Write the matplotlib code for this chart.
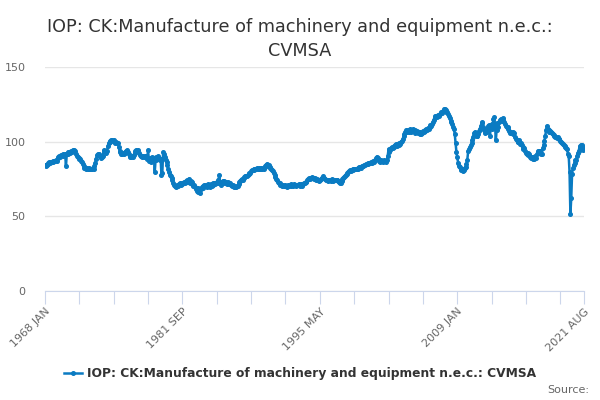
import numpy as np
import matplotlib
matplotlib.use('Agg')
import matplotlib.pyplot as plt

# monthly values, 1968 JAN .. 2021 AUG
y1968 = [84.5, 83.8, 84.2, 85.0, 85.6, 86.2, 86.0, 86.6, 86.4, 86.8, 86.5, 87.0]
y1969 = [86.8, 87.5, 87.2, 89.0, 89.6, 90.2, 89.8, 90.8, 91.2, 90.5, 91.5, 91.0]
y1970 = [92.0, 83.5, 91.5, 92.8, 92.0, 93.2, 92.6, 93.5, 93.0, 94.0, 94.6, 94.2]
y1971 = [93.5, 92.0, 90.5, 89.8, 89.0, 88.2, 88.5, 87.0, 86.2, 85.0, 83.5, 82.6]
y1972 = [82.2, 81.8, 82.5, 81.5, 82.0, 82.3, 81.6, 82.0, 81.8, 82.4, 82.0, 83.5]
y1973 = [86.0, 88.5, 90.8, 91.5, 92.0, 91.0, 90.2, 89.0, 89.8, 90.5, 93.5, 94.2]
y1974 = [93.5, 92.6, 94.0, 97.0, 99.0, 100.2, 99.5, 100.8, 101.2, 100.5, 100.8, 99.8]
y1975 = [99.0, 99.5, 98.8, 99.2, 96.5, 94.0, 93.2, 92.0, 91.5, 92.2, 91.8, 92.5]
y1976 = [93.0, 93.8, 94.2, 93.0, 91.5, 90.6, 90.0, 89.8, 90.4, 89.6, 91.0, 92.5]
y1977 = [94.0, 94.5, 93.8, 94.6, 92.5, 91.0, 90.2, 90.5, 89.8, 90.6, 90.0, 90.2]
y1978 = [89.5, 90.2, 88.6, 94.5, 87.0, 89.0, 88.0, 86.5, 89.5, 87.5, 88.8, 80.0]
y1979 = [88.0, 89.8, 88.5, 90.2, 89.0, 87.5, 88.5, 77.5, 79.0, 93.0, 91.5, 90.0]
y1980 = [88.0, 86.5, 84.5, 82.0, 80.0, 78.0, 77.0, 76.0, 74.5, 72.5, 71.0, 70.0]
y1981 = [69.5, 70.5, 71.2, 70.0, 71.5, 72.0, 71.0, 72.3, 71.8, 72.5, 73.0, 72.4]
y1982 = [73.5, 72.8, 74.0, 73.2, 75.2, 72.5, 73.6, 71.5, 72.8, 70.5, 71.2, 69.8]
y1983 = [68.5, 67.0, 69.2, 66.5, 68.0, 65.8, 68.5, 69.5, 70.2, 69.0, 71.0, 70.3]
y1984 = [71.2, 69.8, 71.5, 70.0, 70.8, 69.5, 71.6, 70.4, 72.0, 71.2, 72.6, 71.8]
y1985 = [72.5, 73.2, 72.0, 74.5, 77.5, 73.0, 70.8, 72.5, 73.8, 72.2, 73.5, 72.0]
y1986 = [72.8, 71.8, 73.0, 72.4, 71.5, 72.6, 71.2, 70.5, 71.0, 69.6, 70.2, 69.4]
y1987 = [69.8, 70.6, 70.0, 71.5, 72.8, 73.5, 74.2, 75.0, 74.6, 75.8, 76.5, 77.0]
y1988 = [77.2, 76.8, 77.8, 78.5, 79.2, 79.0, 80.2, 80.8, 81.0, 81.8, 81.2, 82.0]
y1989 = [81.5, 82.2, 81.8, 82.5, 81.4, 82.0, 82.6, 81.6, 82.2, 81.8, 82.8, 83.5]
y1990 = [84.2, 85.2, 84.0, 84.5, 83.0, 82.5, 82.0, 81.0, 80.2, 79.0, 77.8, 76.5]
y1991 = [75.2, 74.0, 73.2, 72.5, 72.0, 71.2, 71.0, 70.5, 71.2, 70.2, 70.8, 70.0]
y1992 = [70.6, 69.8, 71.0, 70.2, 70.8, 71.4, 70.4, 71.0, 70.6, 71.5, 70.8, 71.2]
y1993 = [70.5, 71.2, 70.8, 71.6, 70.6, 71.0, 71.8, 70.6, 71.4, 72.0, 72.6, 73.0]
y1994 = [73.2, 74.0, 74.8, 75.5, 75.0, 76.0, 75.4, 76.2, 75.8, 75.2, 76.0, 75.0]
y1995 = [74.5, 74.8, 74.0, 73.8, 74.2, 75.0, 75.6, 76.0, 76.8, 75.8, 75.2, 74.6]
y1996 = [74.0, 74.5, 73.8, 74.6, 74.2, 73.6, 74.8, 74.2, 73.8, 74.5, 74.0, 74.4]
y1997 = [74.0, 74.6, 73.8, 73.2, 72.6, 72.2, 73.5, 74.8, 75.6, 76.5, 77.2, 78.0]
y1998 = [78.4, 79.0, 79.5, 80.2, 80.8, 80.5, 81.2, 81.8, 81.0, 81.6, 82.0, 81.5]
y1999 = [81.8, 82.4, 81.6, 82.8, 83.0, 82.5, 83.4, 84.0, 83.6, 84.2, 84.6, 85.0]
y2000 = [84.8, 85.5, 85.0, 86.0, 85.4, 86.2, 85.8, 86.5, 87.0, 86.4, 87.5, 88.8]
y2001 = [90.0, 89.0, 88.0, 87.0, 86.5, 87.8, 87.0, 86.2, 87.5, 86.8, 87.2, 86.6]
y2002 = [87.8, 90.5, 95.0, 93.0, 94.2, 95.5, 96.2, 95.8, 97.0, 96.4, 97.5, 98.2]
y2003 = [97.0, 98.5, 97.8, 99.2, 98.6, 99.8, 100.5, 101.8, 103.5, 105.2, 106.8, 107.5]
y2004 = [106.5, 107.8, 106.8, 108.2, 107.0, 106.2, 107.6, 108.4, 107.0, 106.0, 107.8, 106.6]
y2005 = [107.2, 105.5, 106.8, 104.8, 106.2, 105.2, 106.0, 107.2, 106.5, 108.0, 107.4, 108.6]
y2006 = [108.0, 109.2, 108.6, 110.0, 111.2, 110.5, 112.0, 113.5, 114.8, 116.2, 117.0, 117.5]
y2007 = [116.8, 118.0, 117.5, 118.6, 119.2, 120.0, 119.5, 120.8, 121.6, 122.0, 121.2, 120.2]
y2008 = [119.6, 118.5, 117.0, 116.0, 114.0, 113.2, 111.5, 110.0, 108.5, 105.0, 99.0, 93.0]
y2009 = [89.5, 86.0, 84.0, 82.8, 81.5, 80.8, 82.0, 80.5, 81.2, 82.5, 83.0, 85.0]
y2010 = [88.0, 93.5, 95.0, 96.5, 97.5, 98.8, 101.0, 103.0, 105.5, 106.5, 104.5, 103.8]
y2011 = [103.5, 105.0, 107.0, 108.5, 110.5, 112.5, 113.0, 110.0, 108.0, 106.0, 108.5, 106.5]
y2012 = [108.0, 110.5, 111.0, 104.0, 109.5, 112.0, 108.5, 115.0, 116.2, 112.0, 100.8, 108.0]
y2013 = [112.5, 110.0, 113.0, 114.5, 115.2, 114.0, 115.8, 114.6, 113.0, 111.8, 110.2, 109.5]
y2014 = [110.0, 108.5, 107.2, 106.0, 106.8, 105.5, 106.2, 104.8, 105.5, 103.0, 102.0, 100.8]
y2015 = [100.0, 99.6, 101.0, 98.5, 99.2, 97.5, 96.2, 95.0, 95.8, 93.5, 92.5, 91.8]
y2016 = [92.5, 90.8, 91.5, 89.5, 88.8, 90.0, 88.2, 89.5, 88.5, 90.2, 89.0, 91.5]
y2017 = [93.5, 94.0, 92.5, 93.8, 92.0, 91.8, 95.5, 98.0, 100.5, 104.0, 107.5, 110.5]
y2018 = [108.5, 107.6, 106.8, 107.4, 106.5, 106.0, 105.2, 104.5, 103.8, 103.0, 103.4, 102.5]
y2019 = [102.8, 102.0, 101.5, 100.6, 100.0, 99.2, 98.5, 97.8, 97.2, 96.5, 96.0, 95.2]
y2020 = [92.0, 90.5, 79.5, 51.5, 62.0, 78.5, 82.5, 84.5, 86.0, 87.5, 88.0, 90.5]
y2021 = [92.5, 94.0, 97.0, 96.0, 98.0, 97.5, 94.5, 95.5]

values = (y1968 + y1969 + y1970 + y1971 + y1972 + y1973 + y1974 + y1975 + y1976
          + y1977 + y1978 + y1979 + y1980 + y1981 + y1982 + y1983 + y1984 + y1985
          + y1986 + y1987 + y1988 + y1989 + y1990 + y1991 + y1992 + y1993 + y1994
          + y1995 + y1996 + y1997 + y1998 + y1999 + y2000 + y2001 + y2002 + y2003
          + y2004 + y2005 + y2006 + y2007 + y2008 + y2009 + y2010 + y2011 + y2012
          + y2013 + y2014 + y2015 + y2016 + y2017 + y2018 + y2019 + y2020 + y2021)

months = ['JAN', 'FEB', 'MAR', 'APR', 'MAY', 'JUN',
          'JUL', 'AUG', 'SEP', 'OCT', 'NOV', 'DEC']
labels = ['%d %s' % (1968 + k // 12, months[k % 12]) for k in range(len(values))]

title = 'IOP: CK:Manufacture of machinery and equipment n.e.c.:\nCVMSA'
series_name = 'IOP: CK:Manufacture of machinery and equipment n.e.c.: CVMSA'

blue = '#0a7bc2'
grey_txt = '#666666'
axis_col = '#ccd6eb'

plt.rcParams['font.family'] = 'DejaVu Sans'
fig = plt.figure(figsize=(6, 4), dpi=100)
ax = fig.add_axes([0.075, 0.2725, 0.898, 0.56])

x = np.arange(len(values))
line, = ax.plot(x, values, color=blue, lw=1.8, marker='o', ms=2.6,
                mec=blue, mfc=blue, label=series_name, zorder=3)

ax.set_xlim(0, len(values) - 1)
ax.set_ylim(0, 150)
ax.set_yticks([0, 50, 100, 150])
ax.grid(axis='y', color='#e6e6e6', lw=1)
ax.set_axisbelow(True)
ax.tick_params(axis='y', length=0, labelsize=8, labelcolor=grey_txt, pad=14)

tick_pos = list(range(0, len(values), 41)) + [len(values) - 1]
ax.set_xticks(tick_pos)
lab_idx = [0, 164, 328, 492, len(values) - 1]
ax.set_xticklabels([labels[p] if p in lab_idx else '' for p in tick_pos],
                   rotation=45, ha='right', rotation_mode='anchor')
ax.tick_params(axis='x', length=9, color=axis_col, labelsize=8,
               labelcolor=grey_txt, pad=2)

for s in ['top', 'right', 'left']:
    ax.spines[s].set_visible(False)
ax.spines['bottom'].set_color(axis_col)

fig.text(0.5, 0.955, title, ha='center', va='top', fontsize=12.7,
         color='#333333', linespacing=1.45)

leg = fig.legend(handles=[line], loc='center', bbox_to_anchor=(0.5, 0.066),
                 frameon=False, fontsize=8.8, handlelength=1.5,
                 handletextpad=0.4)
for t in leg.get_texts():
    t.set_color('#333333')
    t.set_fontweight('bold')

fig.text(0.982, 0.025, 'Source:', ha='right', va='center', fontsize=8,
         color=grey_txt)

fig.savefig('out.png', dpi=100)
